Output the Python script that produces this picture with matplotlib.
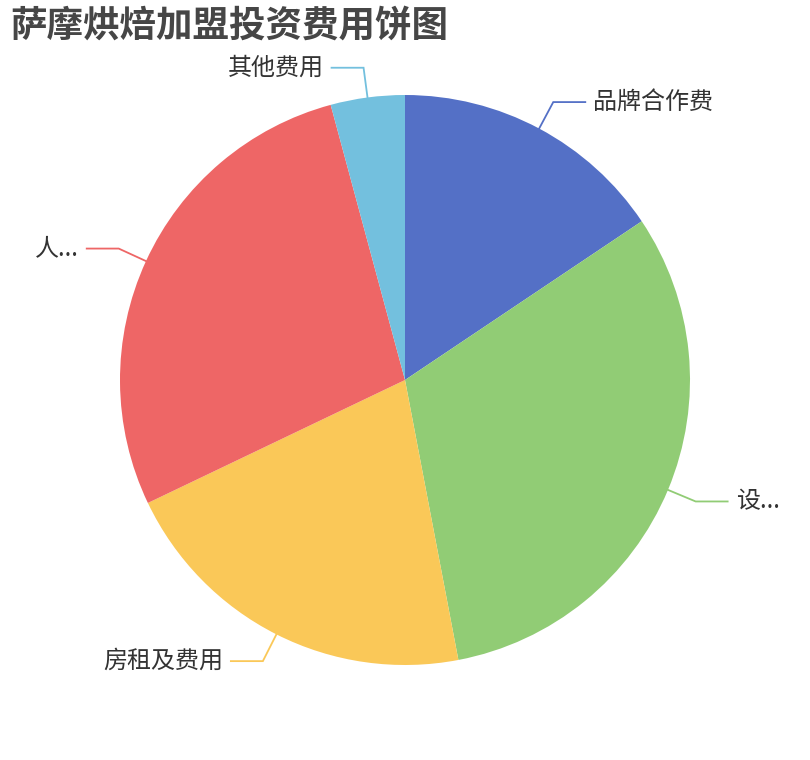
import numpy as np
import matplotlib
matplotlib.use("Agg")
import matplotlib.pyplot as plt

plt.rcParams['font.family'] = ['Noto Sans CJK SC', 'DejaVu Sans']

title = "萨摩烘焙加盟投资费用饼图"
labels = ["品牌合作费", "设...", "房租及费用", "人...", "其他费用"]
values = [15.6, 31.4, 20.9, 27.9, 4.2]
colors = ["#5470c6", "#91cc75", "#fac858", "#ee6666", "#73c0de"]

W, H = 810, 760
fig = plt.figure(figsize=(W / 100, H / 100), dpi=100)
ax = fig.add_axes([0, 0, 1, 1])
ax.set_xlim(0, W)
ax.set_ylim(0, H)
ax.set_aspect('equal')
ax.axis('off')

cx, cy, R = 405, H - 380, 285
wedges, _ = ax.pie(values, colors=colors, startangle=90, counterclock=False,
                   radius=R, center=(cx, cy), frame=True,
                   wedgeprops=dict(linewidth=0))
ax.set_xlim(0, W)
ax.set_ylim(0, H)
ax.axis('off')

len1, len2, gap = 30, 32, 8
for w, lab, col in zip(wedges, labels, colors):
    mid = np.deg2rad((w.theta1 + w.theta2) / 2)
    x0, y0 = cx + R * np.cos(mid), cy + R * np.sin(mid)
    x1, y1 = cx + (R + len1) * np.cos(mid), cy + (R + len1) * np.sin(mid)
    side = 1 if np.cos(mid) >= 0 else -1
    x2 = x1 + side * len2
    ax.plot([x0, x1, x2], [y0, y1, y1], color=col, lw=1.3, solid_joinstyle='miter')
    ax.text(x2 + side * gap, y1, lab, ha='left' if side > 0 else 'right',
            va='center', fontsize=17.3, color='#333333')

fig.text(10 / W, 1 - 26 / H, title, fontsize=26.3, fontweight='bold',
         color='#464646', ha='left', va='center')

fig.savefig("out.png", dpi=100)
